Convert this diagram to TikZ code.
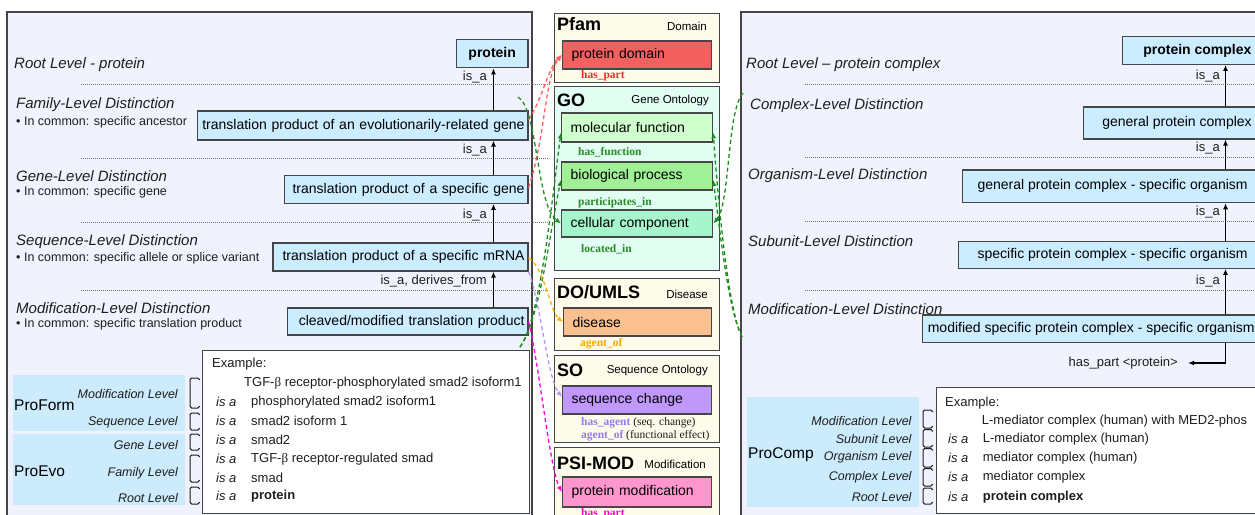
\documentclass[tikz,border=0pt]{standalone}
\usepackage{fontspec}
\setmainfont{Liberation Sans}
\newfontfamily\relfont{Liberation Serif}
\usetikzlibrary{arrows.meta,calc}

\definecolor{panelbg}{RGB}{240,243,253}
\definecolor{panelline}{RGB}{70,70,70}
\definecolor{lvlblue}{RGB}{204,236,255}
\definecolor{tagblue}{RGB}{204,235,252}
\definecolor{cream}{RGB}{253,251,234}
\definecolor{mint}{RGB}{226,253,242}
\definecolor{pfred}{RGB}{243,96,96}
\definecolor{mfgreen}{RGB}{206,255,204}
\definecolor{bpgreen}{RGB}{160,240,150}
\definecolor{ccgreen}{RGB}{165,245,205}
\definecolor{disorange}{RGB}{250,192,143}
\definecolor{scpurple}{RGB}{192,152,250}
\definecolor{pmpink}{RGB}{255,150,205}
\definecolor{txt}{RGB}{30,30,30}
\definecolor{relred}{RGB}{255,95,95}
\definecolor{relgreen}{RGB}{30,140,30}
\definecolor{relorange}{RGB}{255,175,0}
\definecolor{relpurple}{RGB}{185,145,250}
\definecolor{relmagenta}{RGB}{255,0,230}
\definecolor{lblred}{RGB}{255,40,40}
\definecolor{lblgreen}{RGB}{40,140,40}
\definecolor{lblorange}{RGB}{255,165,0}
\definecolor{lblpurple}{RGB}{150,120,240}
\definecolor{lblmagenta}{RGB}{255,0,200}
\definecolor{sepgray}{RGB}{120,120,120}

\begin{document}
\begin{tikzpicture}[x=1pt,y=-1pt,
  panelbox/.style={draw=panelline, fill=panelbg, line width=1.5pt},
  grpbox/.style={draw=panelline, line width=1.2pt, inner sep=0pt, anchor=north west, minimum width=165pt},
  grptitle/.style={font=\bfseries\fontsize{18}{20}\selectfont, anchor=west, inner sep=0pt},
  grpsub/.style={font=\fontsize{11.5}{13}\selectfont, anchor=east, inner sep=0pt},
  midterm/.style={draw=panelline, line width=1.2pt, font=\fontsize{14}{16}\selectfont, align=left, inner xsep=9pt, inner ysep=0pt, anchor=west},
  rellbl/.style={font=\relfont\bfseries\fontsize{11.5}{13}\selectfont, anchor=west, inner sep=0pt},
  lvlbox/.style={draw=panelline, fill=lvlblue, line width=1.2pt, font=\fontsize{14}{16}\selectfont, align=right, inner xsep=3.5pt, inner ysep=0pt, anchor=east},
  rlvlbox/.style={draw=panelline, fill=lvlblue, line width=1.2pt, font=\fontsize{14}{16}\selectfont, inner ysep=0pt, anchor=west},
  lvltitle/.style={font=\itshape\fontsize{15}{17}\selectfont, text=txt, anchor=west, inner sep=0pt},
  lvlnote/.style={font=\fontsize{12.5}{14}\selectfont, text=txt, anchor=west, inner sep=0pt},
  isalbl/.style={font=\fontsize{13}{15}\selectfont, text=txt, anchor=east, inner sep=0pt},
  isa/.style={draw=black, line width=1.2pt, -{Latex[length=6pt,width=5pt]}},
  sepline/.style={draw=sepgray, line width=0.8pt, dash pattern=on 0.9pt off 1.1pt},
  tagbox/.style={fill=tagblue, inner sep=0pt, anchor=north west},
  tagname/.style={font=\fontsize{15.5}{17}\selectfont, anchor=west, inner sep=0pt},
  taglbl/.style={font=\itshape\fontsize{12.5}{14}\selectfont, text=txt, anchor=east, inner sep=0pt},
  brk/.style={draw=txt, line width=1pt, rounded corners=1.6pt},
  exbox/.style={draw=panelline, fill=white, line width=1.2pt, inner sep=0pt, anchor=north west},
  extext/.style={font=\fontsize{13}{15}\selectfont, text=txt, anchor=west, inner sep=0pt},
  exis/.style={font=\itshape\fontsize{13}{15}\selectfont, text=txt, anchor=west, inner sep=0pt},
  rel/.style={line width=1.3pt, dash pattern=on 4pt off 3pt, -{Latex[length=6pt,width=5pt]}}
]
\useasboundingbox (0,0) rectangle (1255,514);
\clip (0,0) rectangle (1255,514);

% ---------- the two side panels ----------
\path[panelbox] (7,12) rectangle (532,530);
\path[panelbox] (741,12) rectangle (1275,530);

% ---------- level separators ----------
\foreach \yy in {84,158,222,290.7} \draw[sepline] (81,\yy) -- (549,\yy);
\foreach \yy in {84,157,221.7,290.7} \draw[sepline] (805,\yy) -- (1260,\yy);

% ---------- protein hierarchy (left) ----------
\node[lvltitle] (lRoot) at (14,64.5) {Root Level - protein};
\node[lvltitle] (lFam) at (16,104.5) {Family-Level Distinction};
\node[lvlnote] (nFam) at (16,122) {• In common: specific ancestor};
\node[lvltitle] (lGene) at (16,176) {Gene-Level Distinction};
\node[lvlnote] (nGene) at (16,192) {• In common: specific gene};
\node[lvltitle] (lSeq) at (16,241.5) {Sequence-Level Distinction};
\node[lvlnote] (nSeq) at (16,258) {• In common: specific allele or splice variant};
\node[lvltitle] (lMod) at (16,308) {Modification-Level Distinction};
\node[lvlnote] (nMod) at (16,324.5) {• In common: specific translation product};

\node[lvlbox, align=center, text width=64.6pt, minimum height=28.4pt, font=\bfseries\fontsize{14}{16}\selectfont] (prot) at (528.6,53.5) {protein};
\node[lvlbox, text width=323.6pt, minimum height=29pt] (fam) at (528.6,125.5) {translation product of an evolutionarily-related gene};
\node[lvlbox, text width=236.6pt, minimum height=27.6pt] (gene) at (528.6,189.5) {translation product of a specific gene};
\node[lvlbox, text width=248pt, minimum height=28pt] (mrna) at (528.6,257) {translation product of a specific mRNA};
\node[lvlbox, text width=233.6pt, minimum height=27pt] (clv) at (528.6,321.5) {cleaved/modified translation product};

\coordinate (lsp) at (493.5,0);
\draw[isa] (fam.north -| lsp) -- (prot.south -| lsp);
\draw[isa] (gene.north -| lsp) -- (fam.south -| lsp);
\draw[isa] (mrna.north -| lsp) -- (gene.south -| lsp);
\draw[isa] (clv.north -| lsp) -- (mrna.south -| lsp);
\node[isalbl] (ia1) at (487,77) {is\_a};
\node[isalbl] (ia2) at (487,150) {is\_a};
\node[isalbl] (ia3) at (487,215) {is\_a};
\node[isalbl] (ia4) at (487,281) {is\_a, derives\_from};

% ---------- ProForm / ProEvo key ----------
\node[tagbox, minimum width=172pt, minimum height=55.7pt] (proform) at (13,375) {};
\node[tagbox, minimum width=172pt, minimum height=71pt] (proevo) at (13,434) {};
\node[tagname] (tProForm) at (14,405) {ProForm};
\node[tagname] (tProEvo) at (14,471.7) {ProEvo};
\node[taglbl] (kMod) at (178,394) {Modification Level};
\node[taglbl] (kSeq) at (178,422.7) {Sequence Level};
\node[taglbl] (kGene) at (178,445) {Gene Level};
\node[taglbl] (kFam) at (178,473) {Family Level};
\node[taglbl] (kRoot) at (178,498) {Root Level};
\foreach \ya/\yb in {378/408,413/430,434/450,455/482,487/504}
  \draw[brk] (199.5,\ya+2) |- (190,\ya) -- (190,\yb) -| (199.5,\yb-2);

\node[exbox, minimum width=326.6pt, minimum height=163pt] (exL) at (202,350) {};
\node[extext] (eL0) at (212,364) {Example:};
\node[extext] (eL1) at (244,383) {TGF-{\relfont β} receptor-phosphorylated smad2 isoform1};
\foreach \yy/\tt [count=\i] in {401.7/phosphorylated smad2 isoform1, 421/smad2 isoform 1, 440/smad2, 459/TGF-{\relfont β} receptor-regulated smad, 477.7/smad}{
  \node[exis] (eLis\i) at (216,\yy) {is a};
  \node[extext] (eLt\i) at (251,\yy) {\tt};
}
\node[exis] (eLis6) at (216,496) {is a};
\node[extext, font=\bfseries\fontsize{13}{15}\selectfont] (eLt6) at (251,496) {protein};

% ---------- middle column of related ontologies ----------
\node[grpbox, fill=cream, minimum height=69pt] (pfam) at (554,13) {};
\node[grpbox, fill=mint, minimum height=184pt] (go) at (554,86) {};
\node[grpbox, fill=cream, minimum height=72pt] (doumls) at (554,278) {};
\node[grpbox, fill=cream, minimum height=87pt] (so) at (554,355) {};
\node[grpbox, fill=cream, minimum height=80pt] (psimod) at (554,447) {};

\node[grptitle] (tPfam) at (557,24) {Pfam};
\node[grpsub] (sPfam) at (707,26) {Domain};
\node[grptitle] (tGO) at (557,100) {GO};
\node[grpsub] (sGO) at (709,101) {Gene Ontology};
\node[grptitle] (tDO) at (557,292) {DO/UMLS};
\node[grpsub] (sDO) at (708,294) {Disease};
\node[grptitle] (tSO) at (557,370) {SO};
\node[grpsub] (sSO) at (708,371) {Sequence Ontology};
\node[grptitle] (tPSI) at (557,463) {PSI-MOD};
\node[grpsub] (sPSI) at (706,464) {Modification};

\node[midterm, fill=pfred, text width=131pt, minimum height=28pt] (pdom) at (562,55) {protein domain};
\node[midterm, fill=mfgreen, text width=133pt, minimum height=29pt] (mf) at (561,127.5) {molecular function};
\node[midterm, fill=bpgreen, text width=133pt, minimum height=28pt] (bp) at (561,176) {biological process};
\node[midterm, fill=ccgreen, text width=133pt, minimum height=27pt] (cc) at (561,223.5) {cellular component};
\node[midterm, fill=disorange, text width=130pt, minimum height=28pt] (dis) at (563,322) {disease};
\node[midterm, fill=scpurple, text width=131pt, minimum height=28pt] (sc) at (562,400) {sequence change};
\node[midterm, fill=pmpink, text width=131pt, minimum height=30pt] (pm) at (562,492) {protein modification};

\node[rellbl, text=lblred] (rPart) at (581,76) {has\_part};
\node[rellbl, text=lblgreen] (rFun) at (578,152) {has\_function};
\node[rellbl, text=lblgreen] (rPart2) at (578,203) {participates\_in};
\node[rellbl, text=lblgreen] (rLoc) at (581,249) {located\_in};
\node[rellbl, text=lblorange] (rAgent) at (580,344) {agent\_of};
\node[rellbl, text=lblpurple] (rHasAg) at (581,423) {has\_agent\textcolor{txt}{\mdseries\ (seq. change)}};
\node[rellbl, text=lblpurple] (rAgOf) at (581,436) {agent\_of\textcolor{txt}{\mdseries\ (functional effect)}};
\node[rellbl, text=lblmagenta] (rPart3) at (581,514) {has\_part};

% ---------- protein complex hierarchy (right) ----------
\node[lvltitle] (rRoot) at (746,64.5) {Root Level – protein complex};
\node[lvltitle] (rCpx) at (750,106) {Complex-Level Distinction};
\node[lvltitle] (rOrg) at (748,176) {Organism-Level Distinction};
\node[lvltitle] (rSub) at (748,241) {Subunit-Level Distinction};
\node[lvltitle] (rMod) at (748,309) {Modification-Level Distinction};

\node[rlvlbox, inner xsep=21pt, minimum height=27.6pt, font=\bfseries\fontsize{14}{16}\selectfont] (pc) at (1121.7,50.5) {protein complex};
\node[rlvlbox, inner xsep=19pt, minimum height=32pt] (gpc) at (1082.7,123) {general protein complex};
\node[rlvlbox, inner xsep=15.3pt, minimum height=32.7pt] (gpcso) at (961.7,186.3) {general protein complex - specific organism};
\node[rlvlbox, inner xsep=19pt, minimum height=26.6pt] (spcso) at (958,255) {specific protein complex - specific organism};
\node[rlvlbox, inner xsep=5.5pt, minimum height=27.7pt] (mcpx) at (921.7,328.9) {modified specific protein complex - specific organism};

\coordinate (rsp) at (1225.5,0);
\draw[isa] (gpc.north -| rsp) -- (pc.south -| rsp);
\draw[isa] (gpcso.north -| rsp) -- (gpc.south -| rsp);
\draw[isa] (spcso.north -| rsp) -- (gpcso.south -| rsp);
\draw[isa] (mcpx.north -| rsp) -- (spcso.south -| rsp);
\node[isalbl] (rb1) at (1220,76) {is\_a};
\node[isalbl] (rb2) at (1220,148) {is\_a};
\node[isalbl] (rb3) at (1220,212) {is\_a};
\node[isalbl] (rb4) at (1220,281) {is\_a};
\node[isalbl, inner xsep=10pt] (hpart) at (1188,363) {has\_part <protein>};
\draw[isa] (mcpx.south -| rsp) |- (hpart.east);

% ---------- ProComp key ----------
\node[tagbox, minimum width=172.3pt, minimum height=109.7pt] (procomp) at (746.7,397) {};
\node[tagname] (tProComp) at (748,455) {ProComp};
\node[taglbl] (cMod) at (911.7,421) {Modification Level};
\node[taglbl] (cSub) at (911.7,439) {Subunit Level};
\node[taglbl] (cOrg) at (911.7,457.7) {Organism Level};
\node[taglbl] (cCpx) at (911.7,477) {Complex Level};
\node[taglbl] (cRoot) at (911.7,496.7) {Root Level};
\foreach \ya/\yb in {410/428,429.5/447,448.5/467,468.5/486,488/504}
  \draw[brk] (932.5,\ya+2) |- (923,\ya) -- (923,\yb) -| (932.5,\yb-2);

\node[exbox, minimum width=340pt, minimum height=125.7pt] (exR) at (936,387) {};
\node[extext] (eR0) at (945,403) {Example:};
\node[extext] (eR1) at (981.7,421) {L-mediator complex (human) with MED2-phos};
\foreach \yy/\tt [count=\i] in {439/L-mediator complex (human), 457.7/mediator complex (human), 477/mediator complex}{
  \node[exis] (eRis\i) at (948,\yy) {is a};
  \node[extext] (eRt\i) at (982.7,\yy) {\tt};
}
\node[exis] (eRis4) at (948,496.7) {is a};
\node[extext, font=\bfseries\fontsize{13}{15}\selectfont] (eRt4) at (982.7,496.7) {protein complex};

% ---------- cross-ontology relations ----------
\coordinate (gL1) at (518,97);
\coordinate (gL2) at (520,347);
\coordinate (gR1) at (743,93);
\coordinate (gR2) at (742,337);
\draw[rel, relred] ($(fam.east)+(0,-6)$) .. controls (542,100) and (548,68) .. (pdom.west);
\draw[rel, relred] ($(gene.east)+(0,-2)$) .. controls (545,140) and (545,75) .. (pdom.west);
\draw[rel, relgreen] (gL1) .. controls (538,108) and (536,205) .. (cc.west);
\draw[rel, relgreen] (gL2) .. controls (540,320) and (552,200) .. ($(mf.west)+(0,5)$);
\draw[rel, relgreen] (gL2) .. controls (540,320) and (550,230) .. ($(bp.west)+(0,4)$);
\draw[rel, relgreen] (gR1) .. controls (727,110) and (730,205) .. (cc.east);
\draw[rel, relgreen] (gR2) .. controls (728,310) and (718,200) .. ($(mf.east)+(0,5)$);
\draw[rel, relgreen] (gR2) .. controls (728,310) and (720,230) .. ($(bp.east)+(0,4)$);
\draw[rel, relorange] ($(mrna.east)+(0,1)$) .. controls (545,268) and (550,312) .. (dis.west);
\draw[rel, relpurple] (mrna.south east) .. controls (540,300) and (548,380) .. ($(sc.west)+(0,-3)$);
\draw[rel, relmagenta] (clv.east) .. controls (540,370) and (550,470) .. (pm.west);
\end{tikzpicture}
\end{document}
